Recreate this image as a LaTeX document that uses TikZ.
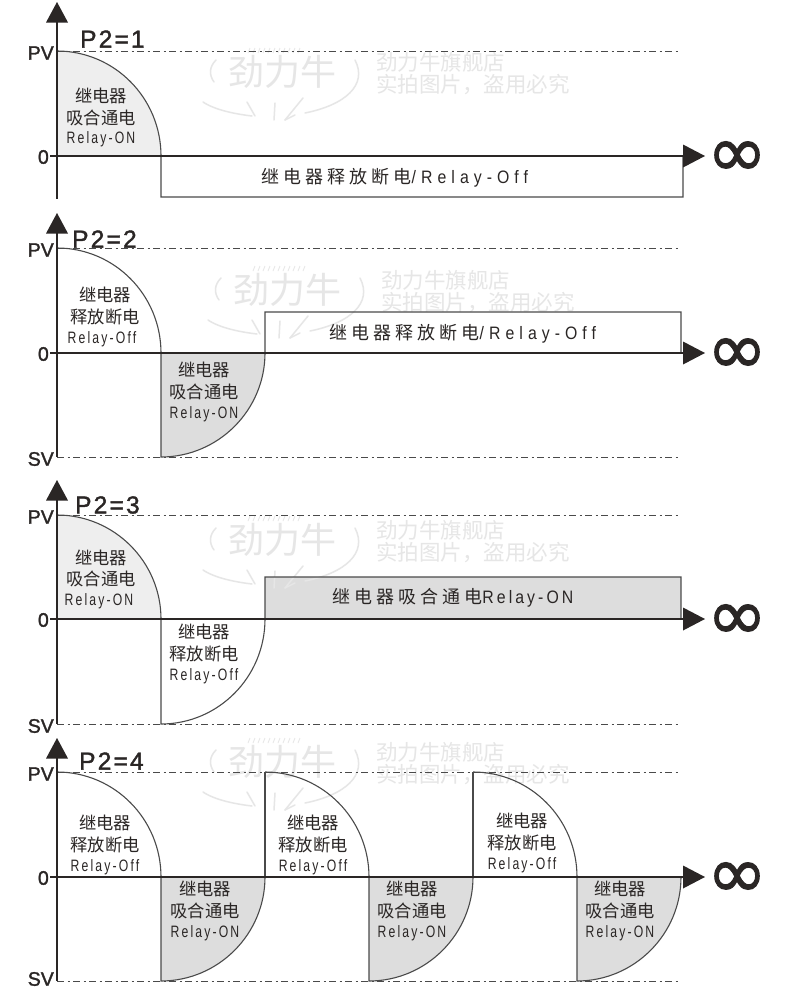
\documentclass[tikz,border=0pt]{standalone}
\usepackage{fontspec}
\newfontfamily\cjk{Noto Sans CJK SC}
\newfontfamily\cjkw[LetterSpace=22]{Noto Sans CJK SC}
\newfontfamily\rl[LetterSpace=13,FakeStretch=.74]{Liberation Sans}
\newfontfamily\rlw[LetterSpace=28,FakeStretch=.88]{Liberation Sans}
\newfontfamily\rlm[LetterSpace=17,FakeStretch=.88]{Liberation Sans}
\newfontfamily\ttl[LetterSpace=9,FakeBold=1.6]{Liberation Sans}
\newfontfamily\tck[FakeBold=1.6]{Liberation Sans}
\newfontfamily\djv[FakeBold=1.5]{DejaVu Sans}
\definecolor{ink}{HTML}{2A2625}
\definecolor{lineg}{HTML}{4A4A4A}
\definecolor{wm}{HTML}{E6E6E6}
\definecolor{fillA}{HTML}{EEEEEE}
\definecolor{fillB}{HTML}{DDDDDD}
\tikzset{
  axisline/.style={draw=ink,line width=1.8pt},
  tipshape/.style={fill=ink,draw=none},
  curveline/.style={draw=lineg,line width=1.1pt},
  limitline/.style={draw=lineg,line width=.9pt,dash pattern=on 7pt off 3.5pt on 2pt off 3.5pt},
  celltext/.style={inner sep=0pt,anchor=center,text=ink,font=\fontsize{17.3}{18}\cjk},
  relaytext/.style={inner sep=0pt,anchor=center,text=ink,font=\fontsize{16.5}{17}\rl},
  bandtext/.style={inner sep=0pt,anchor=center,text=ink,font=\fontsize{18}{19}\cjkw},
  titletext/.style={inner sep=0pt,anchor=west,text=ink,font=\fontsize{24.5}{25}\ttl},
  ticktext/.style={inner sep=0pt,anchor=east,text=ink,font=\fontsize{19.5}{20}\tck},
  infty/.style={inner sep=0pt,anchor=center,text=ink,font=\fontsize{72}{72}\djv},
  wmline/.style={draw=wm,line width=1.5pt,line cap=round},
  wmlogo/.style={inner sep=0pt,text=wm,font=\fontsize{36}{36}\cjk},
  wmtext/.style={inner sep=0pt,anchor=west,text=wm,font=\fontsize{21.5}{22}\cjk},
}
% quarter curves: falling from (x,y) to (x+104,y+105); rising from (x,y) to (x+104,y-104)
\newcommand{\qfall}[2]{.. controls ({#1+57.4},#2) and ({#1+104},{#2+47}) .. ({#1+104},{#2+105})}
\newcommand{\qrise}[2]{.. controls ({#1+57.4},#2) and ({#1+104},{#2-47}) .. ({#1+104},{#2-104})}
% axes: name, title x, title y, title, tip y, bottom y, zero y
\newcommand{\axes}[7]{%
  \coordinate (#1t) at (57,{#5+20});
  \coordinate (#1b) at (57,#6);
  \coordinate (#1l) at (50,#7);
  \coordinate (#1r) at (684,#7);
  \draw[axisline] (#1t) -- (#1b);
  \draw[axisline] (#1l) -- (#1r);
  \fill[tipshape] (57,#5) -- (46,{#5+20.5}) -- (68,{#5+20.5}) -- cycle;
  \fill[tipshape] (705,#7) -- (683,{#7-11.5}) -- (683,{#7+11.5}) -- cycle;
  \node[titletext] (#1title) at (#2,#3) {#4};
  \node[ticktext] (#1zero) at (49,{#7+1}) {0};
  \node[infty] (#1inf) at (737,{#7+3}) {∞};
}
\newcommand{\wmark}[3]{%
  \begin{scope}[shift={(#2,#3)}]
  \node[wmlogo] (#1logo) at (282,72) {劲力牛};
  \node[wmtext] (#1wa) at (376,62) {劲力牛旗舰店};
  \node[wmtext] (#1wb) at (376,85) {实拍图片，盗用必究};
  \draw[wmline] (216,60) .. controls (209,67) and (209,75) .. (214,82);
  \draw[wmline] (203,102) .. controls (215,110) and (235,114) .. (252,116);
  \draw[wmline] (247,102) -- (255,116);
  \draw[wmline] (275,103) -- (274,120);
  \draw[wmline] (303,98) -- (285,120);
  \draw[wmline] (285,120) -- (295,115);
  \draw[wmline] (305,113) .. controls (345,105) and (368,85) .. (355,60) ;
  \foreach \k in {0,5,...,50} {\draw[draw=wm,line width=.8pt] ({248+\k},53) -- ({250+\k},48);}
  \end{scope}
}
\begin{document}
\begin{tikzpicture}[x=1pt,y=-1pt]
\useasboundingbox (0,0) rectangle (790,989);
\fill[white] (0,0) rectangle (790,989);

% ---------- panel 1
\fill[fillA] (57,156) -- (57,51) \qfall{57}{51} -- cycle;
\wmark{a}{0}{0}
\draw[limitline] (57,51) -- (680,51);
\draw[curveline] (57,51) \qfall{57}{51} -- (161,197) -- (683,197) -- (683,156);
\axes{a}{80}{39}{P2=1}{2}{199}{156}
\node[ticktext] (apv) at (54,53) {PV};
\node[celltext] (a1) at (101,96) {继电器};
\node[celltext] (a2) at (101,118) {吸合通电};
\node[relaytext] (a3) at (101,139) {Relay-ON};
\node[bandtext] (a4) at (395,178) {继电器释放断电{\fontsize{18}{19}\rlw/Relay-Off}};

% ---------- panel 2
\fill[fillB] (161,353) -- (161,457) \qrise{161}{457} -- cycle;
\wmark{b}{5}{218}
\draw[limitline] (57,248) -- (680,248);
\draw[limitline] (57,457) -- (680,457);
\draw[curveline] (57,248) \qfall{57}{248} -- (161,457) \qrise{161}{457} -- (265,312) -- (681,312) -- (681,353);
\axes{b}{72}{239}{P2=2}{213}{457}{353}
\node[ticktext] (bpv) at (54,250) {PV};
\node[ticktext] (bsv) at (54,459) {SV};
\node[celltext] (b1) at (105,295) {继电器};
\node[celltext] (b2) at (105,317) {释放断电};
\node[relaytext] (b3) at (102,339) {Relay-Off};
\node[celltext] (b4) at (204,370) {继电器};
\node[celltext] (b5) at (204,392) {吸合通电};
\node[relaytext] (b6) at (204,414) {Relay-ON};
\node[bandtext] (b7) at (463,334) {继电器释放断电{\fontsize{18}{19}\rlw/Relay-Off}};

% ---------- panel 3
\fill[fillA] (57,619) -- (57,515) .. controls (114.4,515) and (161,562) .. (161,619) -- cycle;
\fill[fillB] (265,619) rectangle (681,577);
\wmark{c}{0}{468}
\draw[limitline] (57,515) -- (680,515);
\draw[limitline] (57,724) -- (680,724);
\draw[curveline] (57,515) .. controls (114.4,515) and (161,562) .. (161,619) -- (161,724) .. controls (218.4,724) and (265,677) .. (265,619) -- (265,577) -- (681,577) -- (681,619);
\axes{c}{75}{505}{P2=3}{480}{724}{619}
\node[ticktext] (cpv) at (54,517) {PV};
\node[ticktext] (csv) at (54,726) {SV};
\node[celltext] (c1) at (101,558) {继电器};
\node[celltext] (c2) at (101,579) {吸合通电};
\node[relaytext] (c3) at (99,601) {Relay-ON};
\node[celltext] (c4) at (204,632) {继电器};
\node[celltext] (c5) at (204,654) {释放断电};
\node[relaytext] (c6) at (204,676) {Relay-Off};
\node[bandtext] (c7) at (453,598) {继电器吸合通电{\fontsize{18}{19}\rlm Relay-ON}};

% ---------- panel 4
\foreach \xa in {161,369,577} {
  \fill[fillB] (\xa,877) -- (\xa,981) \qrise{\xa}{981} -- cycle;
}
\wmark{d}{0}{690}
\draw[limitline] (57,772) -- (680,772);
\draw[limitline] (57,981) -- (680,981);
\foreach \xa in {57,265,473} {
  \draw[curveline] (\xa,772) \qfall{\xa}{772};
}
\foreach \xa in {161,369,577} {
  \draw[curveline] (\xa,877) -- (\xa,981) \qrise{\xa}{981};
}
\draw[curveline] (265,877) -- (265,772);
\draw[curveline] (473,877) -- (473,772);
\axes{d}{79}{761}{P2=4}{738}{981}{877}
\node[ticktext] (dpv) at (54,774) {PV};
\node[ticktext] (dsv) at (54,979) {SV};
\node[celltext] (d1) at (105,823) {继电器};
\node[celltext] (d2) at (105,845) {释放断电};
\node[relaytext] (d3) at (105,867) {Relay-Off};
\node[celltext] (d4) at (313,823) {继电器};
\node[celltext] (d5) at (313,845) {释放断电};
\node[relaytext] (d6) at (313,867) {Relay-Off};
\node[celltext] (d7) at (522,821) {继电器};
\node[celltext] (d8) at (522,843) {释放断电};
\node[relaytext] (d9) at (522,865) {Relay-Off};
\foreach \xa/\nm in {205/e,412/f,620/g} {
  \node[celltext] (\nm1) at (\xa,889) {继电器};
  \node[celltext] (\nm2) at (\xa,911) {吸合通电};
  \node[relaytext] (\nm3) at (\xa,933) {Relay-ON};
}
\end{tikzpicture}
\end{document}
